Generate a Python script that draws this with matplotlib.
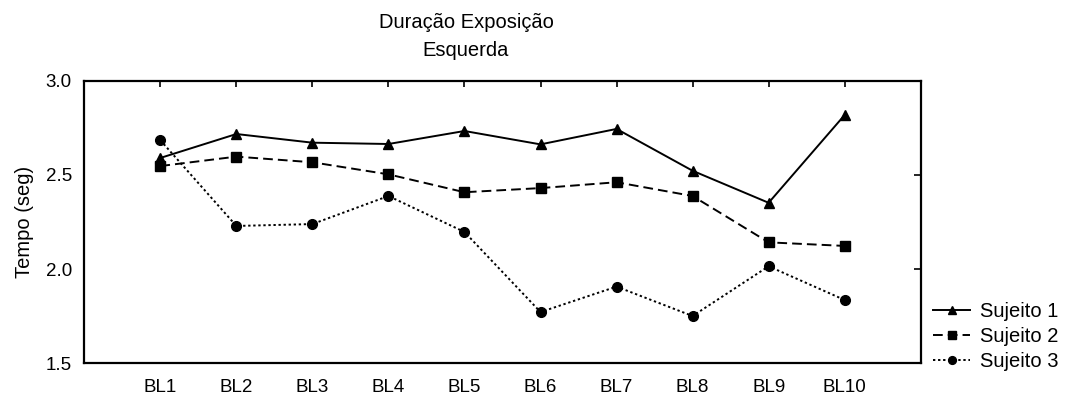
import matplotlib
matplotlib.use("Agg")
import matplotlib.pyplot as plt

# Exposure duration per baseline session, left side
categories = ["BL1", "BL2", "BL3", "BL4", "BL5", "BL6", "BL7", "BL8", "BL9", "BL10"]
sujeito1 = [2.59, 2.717, 2.671, 2.664, 2.733, 2.662, 2.744, 2.522, 2.352, 2.818]
sujeito2 = [2.547, 2.597, 2.567, 2.503, 2.408, 2.430, 2.461, 2.388, 2.142, 2.123]
sujeito3 = [2.684, 2.229, 2.239, 2.388, 2.197, 1.772, 1.907, 1.751, 2.015, 1.836]
series_labels = ["Sujeito 1", "Sujeito 2", "Sujeito 3"]
y_ticks = [1.5, 2.0, 2.5, 3.0]

plt.rcParams["font.family"] = ["Liberation Sans", "DejaVu Sans"]
fs_tick = 13.5
fs_big = 14.5

W, H = 1073, 399
fig = plt.figure(figsize=(W / 100, H / 100), dpi=100)
ax = fig.add_axes([84.3 / W, 1 - 363.3 / H, (920.7 - 84.3) / W, (363.3 - 80.7) / H])

x = list(range(1, len(categories) + 1))
lw = 1.4
ax.plot(x, sujeito1, color="black", lw=lw, linestyle="-", marker="^", ms=7.5,
        label=series_labels[0])
ax.plot(x, sujeito2, color="black", lw=lw, linestyle=(0, (5, 2.6)), marker="s", ms=6.5,
        label=series_labels[1])
ax.plot(x, sujeito3, color="black", lw=lw, linestyle=(0, (1.2, 1.4)), marker="o", ms=7,
        label=series_labels[2])

ax.set_xlim(0, 11)
ax.set_ylim(1.5, 3.0)
ax.set_xticks(x)
ax.set_xticklabels(categories, fontsize=fs_tick)
ax.set_yticks(y_ticks)
ax.set_yticklabels([f"{v:.1f}" for v in y_ticks], fontsize=fs_tick)

# Ticks drawn inward on the top and right edges only
ax.tick_params(axis="x", which="both", bottom=False, top=True, direction="in",
               length=4, width=1.2, pad=11.5, labelbottom=True)
ax.tick_params(axis="y", which="both", left=False, right=True, direction="in",
               length=5, width=1.2, pad=9, labelleft=True)
for s in ax.spines.values():
    s.set_linewidth(1.6)

ax.set_ylabel("Tempo (seg)", fontsize=fs_big, labelpad=8)

fig.text(466 / W, 1 - 22 / H, "Duração Exposição", ha="center", va="center", fontsize=fs_big)
fig.text(466 / W, 1 - 50 / H, "Esquerda", ha="center", va="center", fontsize=fs_big)

fig.legend(loc="upper left", bbox_to_anchor=(933 / W, 1 - 302 / H), frameon=False,
           fontsize=fs_big, handlelength=1.85, handletextpad=0.5, borderpad=0,
           labelspacing=0.3, borderaxespad=0, markerscale=0.8)

fig.savefig("out.png", dpi=100)
